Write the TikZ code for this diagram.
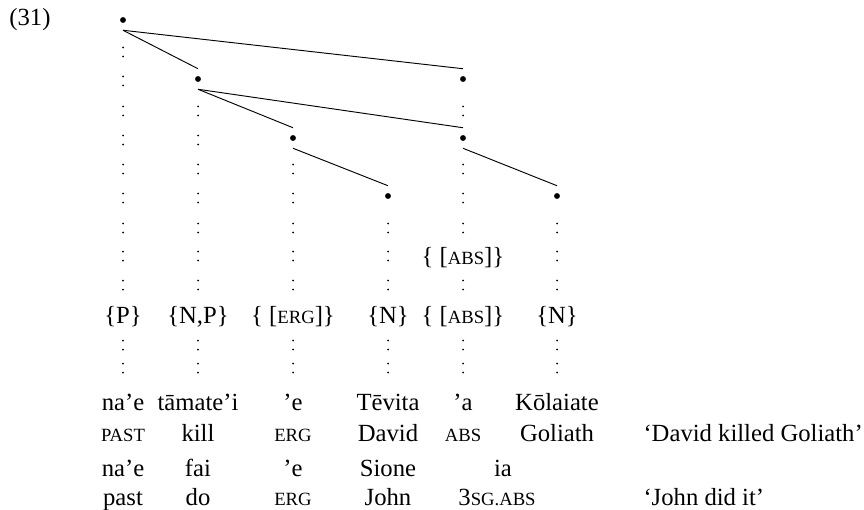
\documentclass[tikz,border=0pt]{standalone}
\usepackage{fontspec}
\setmainfont{Liberation Serif}
\newcommand{\sm}[1]{{\fontsize{14}{16}\selectfont #1}}

\tikzset{
  tnode/.style={inner sep=0pt, minimum width=6pt, minimum height=15pt,
    path picture={\fill (path picture bounding box.center) circle (2.2pt);}},
  colon/.pic={\fill (0,-4.5) circle (0.75pt) (0,4.5) circle (0.75pt);},
  branch/.style={line width=0.7pt},
  wd/.style={anchor=base, inner sep=0pt},
  tr/.style={anchor=base west, inner sep=0pt},
}

\begin{document}
\begin{tikzpicture}[x=0.75pt, y=-0.75pt, font=\fontsize{18.5}{22}\selectfont]
  \useasboundingbox (0,0) rectangle (864,510);
  \node (exnum) at (30,20) {(31)};

  % tree
  \node[tnode] (s)    at (123,20)  {};
  \node[tnode] (vp)   at (198,79)  {};
  \node[tnode] (ergp) at (293,138) {};
  \node[tnode] (subj) at (388,196) {};
  \node[tnode] (absa) at (463,79)  {};
  \node[tnode] (absb) at (463,138) {};
  \node[tnode] (obj)  at (557,196) {};
  \draw[branch] (s.south) -- (vp.north);
  \draw[branch] (s.south) -- (absa.north);
  \draw[branch] (vp.south) -- (ergp.north);
  \draw[branch] (vp.south) -- (absb.north);
  \draw[branch] (ergp.south) -- (subj.north);
  \draw[branch] (absb.south) -- (obj.north);

  % projection lines down to the words
  \foreach \x/\ys in {123/{52,81,111,140,169,198,228,256,285,345,368},
                      198/{111,140,169,198,228,256,285,345,368},
                      293/{169,198,228,256,285,345,368},
                      388/{228,256,285,345,368},
                      463/{111,169,198,228,285,345,368},
                      557/{228,256,285,345,368}}
    \foreach \y in \ys
      \pic at (\x,\y) {colon};

  % features
  \node (fp)   at (123,317) {\{P\}};
  \node (fnp)  at (198,317) {\{N,P\}};
  \node (ferg) at (293,317) {\{ [\sm{ERG}]\}};
  \node (fn)   at (388,317) {\{N\}};
  \node (fabs) at (463,258) {\{ [\sm{ABS}]\}};
  \node (fab)  at (463,317) {\{ [\sm{ABS}]\}};
  \node (fno)  at (557,317) {\{N\}};

  % first sentence
  \node[wd] (w1) at (123,410) {na'e};
  \node[wd] (w2) at (198,410) {tāmate'i};
  \node[wd] (w3) at (293,410) {'e};
  \node[wd] (w4) at (388,410) {Tēvita};
  \node[wd] (w5) at (463,410) {'a};
  \node[wd] (w6) at (557,410) {Kōlaiate};
  \node[wd] (g1) at (123,441) {\sm{PAST}};
  \node[wd] (g2) at (198,441) {kill};
  \node[wd] (g3) at (293,441) {\sm{ERG}};
  \node[wd] (g4) at (388,441) {David};
  \node[wd] (g5) at (463,441) {\sm{ABS}};
  \node[wd] (g6) at (557,441) {Goliath};
  \node[anchor=base east, inner sep=0pt] (t1) at (863,441) {`David killed Goliath'};

  % second sentence
  \node[wd] (v1) at (123,476) {na'e};
  \node[wd] (v2) at (198,476) {fai};
  \node[wd] (v3) at (293,476) {'e};
  \node[wd] (v4) at (388,476) {Sione};
  \node[wd] (v5) at (503,476) {ia};
  \node[wd] (h1) at (123,505) {past};
  \node[wd] (h2) at (198,505) {do};
  \node[wd] (h3) at (293,505) {\sm{ERG}};
  \node[wd] (h4) at (388,505) {John};
  \node[wd] (h5) at (497,505) {3\sm{SG.ABS}};
  \node[tr] (t2) at (t1.west |- h5.base) {`John did it'};
\end{tikzpicture}
\end{document}
